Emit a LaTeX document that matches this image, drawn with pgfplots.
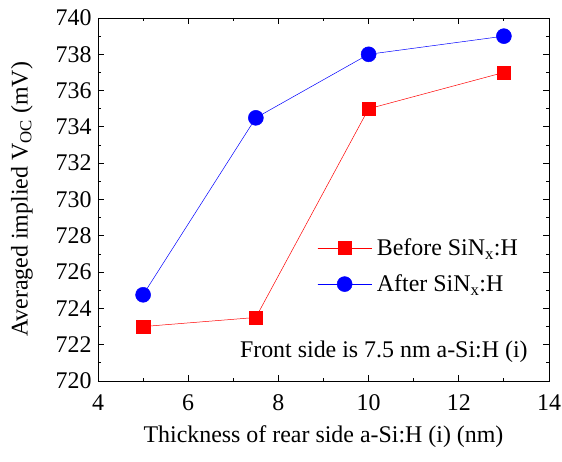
\documentclass[border=0pt]{standalone}
\usepackage{fontspec}
\setmainfont{Liberation Serif}
\usepackage{pgfplots}
\pgfplotsset{compat=1.18}
\begin{document}
\begin{tikzpicture}[x=1bp,y=1bp]
\path[use as bounding box] (-98bp,-81bp) rectangle (464bp,381bp);
\begin{axis}[
  at={(0,0)}, anchor=south west,
  scale only axis,
  width=451bp, height=363bp,
  xmin=4, xmax=14, ymin=720, ymax=740,
  xtick={4,6,...,14}, ytick={720,722,...,740},
  minor x tick num=1, minor y tick num=1,
  tick align=inside,
  major tick length=6bp, minor tick length=3.5bp,
  axis line style={line width=0.9pt},
  every tick/.style={line width=0.9pt, black},
  tick label style={font=\rmfamily\fontsize{24}{28}\selectfont},
  /pgf/number format/assume math mode=true,
  /pgf/number format/1000 sep={},
  xticklabel style={yshift=-10bp},
  yticklabel style={xshift=-3bp},
  label style={font=\rmfamily\fontsize{24}{28}\selectfont},
  xlabel={Thickness of rear side a-Si:H (i) (nm)},
  ylabel={Averaged implied V\textsubscript{OC} (mV)},
  xlabel style={at={(axis description cs:0.5,-0.154)}, anchor=center},
  ylabel style={at={(axis description cs:-0.1685,0.5)}, anchor=center},
  legend style={draw=none, fill=none, at={(axis description cs:0.486,0.317)}, anchor=west,
    inner sep=0pt, font=\rmfamily\fontsize{24}{28}\selectfont, row sep=18bp,
    nodes={inner sep=0pt}, column sep=5bp},
  legend cell align=left,
  legend image code/.code={
    \draw[#1] (0bp,0bp) -- (54bp,0bp);
    \draw[#1,mark repeat=2,mark phase=2] plot coordinates {(0bp,0bp) (27bp,0bp) (54bp,0bp)};
  },
]
\addplot[red, line width=0.5pt, mark=square*, mark size=6.7bp, mark options={fill=red, draw=red, solid}]
  coordinates {(5,723) (7.5,723.5) (10,735) (13,737)};
\addlegendentry{Before SiN\textsubscript{x}:H}
\addplot[blue, line width=0.5pt, mark=*, mark size=7.5bp, mark options={fill=blue, draw=blue, solid}]
  coordinates {(5,724.75) (7.5,734.5) (10,738) (13,739)};
\addlegendentry{After SiN\textsubscript{x}:H}
\node[anchor=east, inner sep=0pt, font=\rmfamily\fontsize{24}{28}\selectfont] at (axis cs:13.53,721.6) {Front side is 7.5 nm a-Si:H (i)};
\end{axis}
\end{tikzpicture}
\end{document}
